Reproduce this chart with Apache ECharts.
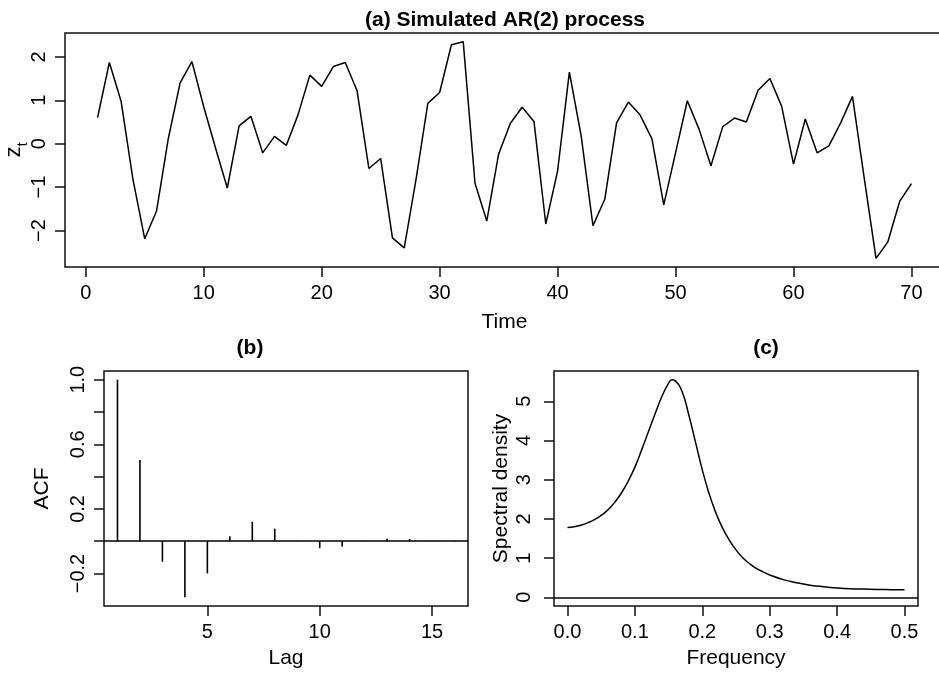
<!DOCTYPE html>
<html>
<head>
<meta charset="utf-8">
<script src="https://cdn.jsdelivr.net/npm/echarts@6/dist/echarts.min.js"></script>
<style>
html,body{margin:0;padding:0;background:#fff;}
#chart{width:939px;height:673px;}
</style>
</head>
<body>
<div id="chart"></div>
<script>
// ---- data ----
const timeIdx = [1,2,3,4,5,6,7,8,9,10,11,12,13,14,15,16,17,18,19,20,21,22,23,24,25,26,27,28,29,30,31,32,33,34,35,36,37,38,39,40,41,42,43,44,45,46,47,48,49,50,51,52,53,54,55,56,57,58,59,60,61,62,63,64,65,66,67,68,69,70];
const zValues = [0.60,1.87,0.97,-0.82,-2.19,-1.55,0.12,1.40,1.89,0.85,-0.10,-1.02,0.41,0.63,-0.21,0.17,-0.04,0.67,1.58,1.32,1.78,1.87,1.22,-0.57,-0.34,-2.17,-2.40,-0.82,0.93,1.18,2.28,2.35,-0.91,-1.78,-0.24,0.47,0.84,0.51,-1.85,-0.63,1.65,0.18,-1.89,-1.28,0.48,0.96,0.66,0.11,-1.41,-0.21,0.99,0.33,-0.51,0.39,0.59,0.50,1.23,1.50,0.86,-0.47,0.57,-0.21,-0.05,0.48,1.09,-0.80,-2.64,-2.26,-1.33,-0.92];

const lags = [1,2,3,4,5,6,7,8,9,10,11,12,13,14,15,16];
const acfValues = [1.0,0.503,-0.127,-0.347,-0.199,0.031,0.121,0.078,0.003,-0.043,-0.033,-0.002,0.016,0.014,-0.002,-0.003];

const freq = [0,0.01,0.02,0.03,0.04,0.05,0.06,0.07,0.08,0.09,0.10,0.11,0.12,0.13,0.14,0.15,0.155,0.16,0.17,0.18,0.19,0.20,0.21,0.22,0.23,0.24,0.25,0.26,0.27,0.28,0.29,0.30,0.32,0.34,0.36,0.38,0.40,0.42,0.44,0.46,0.48,0.50];
const density = [1.78,1.80,1.84,1.90,1.98,2.09,2.23,2.42,2.66,2.96,3.32,3.76,4.22,4.68,5.12,5.46,5.55,5.52,5.25,4.65,3.95,3.25,2.65,2.16,1.77,1.46,1.21,1.01,0.86,0.74,0.65,0.57,0.45,0.37,0.31,0.27,0.24,0.22,0.21,0.20,0.195,0.19];

const tsXTicks = [0,10,20,30,40,50,60,70];
const tsYTicks = [-2,-1,0,1,2];
const acfXTicks = [5,10,15];
const acfYTicks = [-0.2,0,0.2,0.4,0.6,0.8,1.0];
const acfYLabels = [-0.2,0.2,0.6,1.0];
const spXTicks = [0,0.1,0.2,0.3,0.4,0.5];
const spYTicks = [0,1,2,3,4,5];

// ---- helpers ----
function rlim(arr){ const mn=Math.min(...arr), mx=Math.max(...arr), r=mx-mn; return [mn-0.04*r, mx+0.04*r]; }
const FF = 'Liberation Sans, Arial, Helvetica, sans-serif';
const INK = '#111';
function minus(s){ return s.replace('-', '\u2212'); }
function fmtInt(v){ return minus(String(Math.round(v))); }
function fmt1(v){ return minus(v.toFixed(1)); }

function makeAxis(gi, lim, ticks, labels, fmt, opts){
  return Object.assign({
    gridIndex: gi, type:'value', min: lim[0], max: lim[1], scale:true,
    splitLine:{show:false},
    axisLine:{show:false, onZero:false},
    axisTick:{show:true, length:10, customValues: ticks, lineStyle:{color:INK, width:1.5}},
    axisLabel:{show:true, customValues: labels, formatter: fmt, fontFamily:FF, fontSize:20, color:'#000', margin:16},
    nameLocation:'middle',
    nameMoveOverlap:false,
    nameTextStyle:{fontFamily:FF, fontSize:21, color:'#000'}
  }, opts || {});
}

const tsX = rlim(timeIdx), tsY = rlim(zValues);
const acfX = rlim(lags), acfY = rlim(acfValues);
const spX = rlim(freq), spY = rlim([0].concat(density));

const chart = echarts.init(document.getElementById('chart'), null, {renderer:'canvas'});
const gridStyle = {show:true, borderColor:INK, borderWidth:1.5, backgroundColor:'transparent', containLabel:false, outerBoundsMode:'none'};

const option = {
  animation:false,
  backgroundColor:'#fff',
  title:[
    {text:'(a) Simulated AR(2) process', left:500, textAlign:'center', top:5, textStyle:{fontFamily:FF, fontSize:21, fontWeight:'bold', color:'#000'}},
    {text:'(b)', left:245, textAlign:'center', top:333, textStyle:{fontFamily:FF, fontSize:21, fontWeight:'bold', color:'#000'}},
    {text:'(c)', left:761, textAlign:'center', top:333, textStyle:{fontFamily:FF, fontSize:21, fontWeight:'bold', color:'#000'}}
  ],
  grid:[
    Object.assign({left:65, top:33, width:879, height:234}, gridStyle),
    Object.assign({left:104, top:371, width:364, height:235}, gridStyle),
    Object.assign({left:554, top:371, width:364, height:235}, gridStyle)
  ],
  xAxis:[
    makeAxis(0, tsX, tsXTicks, tsXTicks, fmtInt, {name:'Time', nameGap:45}),
    makeAxis(1, acfX, acfXTicks, acfXTicks, fmtInt, {name:'Lag', nameGap:42}),
    makeAxis(2, spX, spXTicks, spXTicks, fmt1, {name:'Frequency', nameGap:42})
  ],
  yAxis:[
    makeAxis(0, tsY, tsYTicks, tsYTicks, fmtInt, {
      name:'{z|z}{t|t}', nameGap:40, nameRotate:90,
      nameTextStyle:{fontFamily:FF, fontSize:21, color:'#000', rich:{
        z:{fontFamily:FF, fontSize:22, color:'#000', verticalAlign:'bottom', lineHeight:26},
        t:{fontFamily:FF, fontSize:15, color:'#000', verticalAlign:'bottom', lineHeight:26, padding:[0,0,-5,0]}
      }},
      axisLabel:{show:true, customValues:tsYTicks, formatter:fmtInt, fontFamily:FF, fontSize:20, color:'#000', margin:16, rotate:90}
    }),
    makeAxis(1, acfY, acfYTicks, acfYLabels, fmt1, {
      name:'ACF', nameGap:51, nameRotate:90,
      axisLabel:{show:true, customValues:acfYLabels, formatter:fmt1, fontFamily:FF, fontSize:20, color:'#000', margin:16, rotate:90}
    }),
    makeAxis(2, spY, spYTicks, spYTicks, fmtInt, {
      name:'Spectral density', nameGap:42, nameRotate:90,
      axisLabel:{show:true, customValues:spYTicks, formatter:fmtInt, fontFamily:FF, fontSize:20, color:'#000', margin:20, rotate:90}
    })
  ],
  series:[
    {type:'line', xAxisIndex:0, yAxisIndex:0, data: timeIdx.map((t,i)=>[t, zValues[i]]),
     showSymbol:false, symbol:'none', lineStyle:{color:'#000', width:1.5}, silent:true},
    {type:'bar', xAxisIndex:1, yAxisIndex:1, data: lags.map((l,i)=>[l, acfValues[i]]),
     barWidth:1.6, itemStyle:{color:'#000'}, silent:true,
     markLine:{silent:true, symbol:['none','none'], label:{show:false}, lineStyle:{color:'#000', width:1.5, type:'solid'}, data:[{yAxis:0}]}},
    {type:'line', xAxisIndex:2, yAxisIndex:2, data: freq.map((f,i)=>[f, density[i]]),
     showSymbol:false, symbol:'none', smooth:0.5, lineStyle:{color:'#000', width:1.5}, silent:true,
     markLine:{silent:true, symbol:['none','none'], label:{show:false}, lineStyle:{color:'#000', width:1.5, type:'solid'}, data:[{yAxis:0}]}}
  ]
};
chart.setOption(option);
</script>
</body>
</html>
